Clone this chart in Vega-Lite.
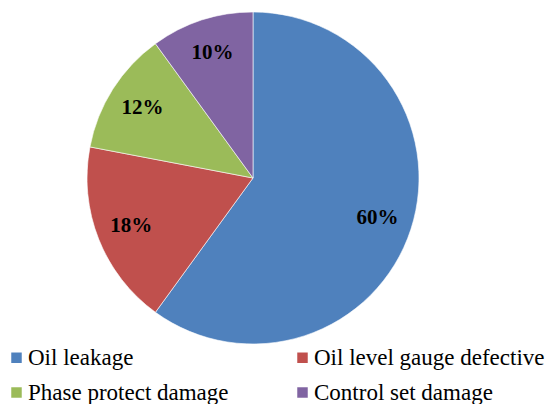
{
  "$schema": "https://vega.github.io/schema/vega-lite/v6.json",
  "width": 506,
  "height": 356,
  "autosize": "none",
  "padding": {"left": 0, "top": 0, "right": 40, "bottom": 48},
  "background": "white",
  "data": {
    "values": [
      {"cause": "Oil leakage", "pct": 60, "label": "60%", "order": 1},
      {"cause": "Oil level gauge defective", "pct": 18, "label": "18%", "order": 2},
      {"cause": "Phase protect damage", "pct": 12, "label": "12%", "order": 3},
      {"cause": "Control set  damage", "pct": 10, "label": "10%", "order": 4}
    ]
  },
  "encoding": {
    "theta": {"field": "pct", "type": "quantitative", "stack": true},
    "order": {"field": "order", "type": "quantitative"},
    "color": {
      "field": "cause",
      "type": "nominal",
      "scale": {
        "domain": ["Oil leakage", "Phase protect damage", "Oil level gauge defective", "Control set  damage"],
        "range": ["#4F81BD", "#9BBB59", "#C0504D", "#8064A2"]
      },
      "legend": {
        "title": null,
        "orient": "none",
        "legendX": 5,
        "legendY": 346,
        "padding": 0,
        "columns": 2,
        "columnPadding": 62,
        "rowPadding": 11,
        "symbolType": "square",
        "symbolSize": 110,
        "symbolStrokeWidth": 0,
        "labelFont": "Liberation Serif",
        "labelFontSize": 23,
        "labelColor": "black",
        "labelOffset": 0,
        "labelLimit": 400
      }
    }
  },
  "layer": [
    {"mark": {"type": "arc", "outerRadius": 166, "stroke": "#ffffff", "strokeWidth": 0.6}},
    {
      "mark": {"type": "text", "radius": 131, "font": "Liberation Serif", "fontWeight": "bold", "fontSize": 21},
      "encoding": {"text": {"field": "label"}, "color": {"value": "black"}}
    }
  ],
  "config": {
    "view": {"stroke": null}
  }
}
